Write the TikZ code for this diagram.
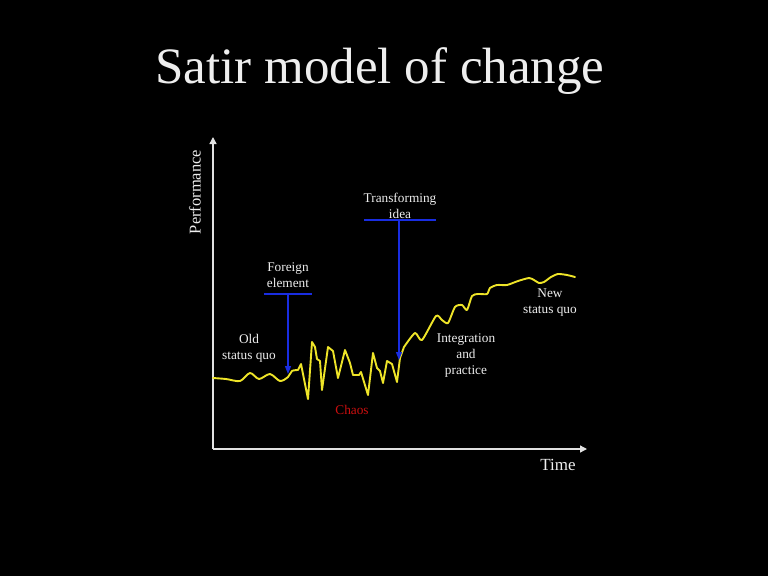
\documentclass[tikz,border=0pt]{standalone}
\usepackage{fontspec}
\setmainfont{Liberation Serif}
\usepackage{tikz}
\usetikzlibrary{arrows.meta, calc, positioning}
\definecolor{curvecol}{RGB}{238,228,40}
\definecolor{cuecol}{RGB}{25,45,225}
\definecolor{chaoscol}{RGB}{205,15,15}
\definecolor{txtcol}{RGB}{238,238,238}
\definecolor{axiscol}{RGB}{225,225,225}

\tikzset{
  lbl/.style={text=txtcol, align=center, font=\fontsize{13.3}{16}\selectfont},
  axis/.style={axiscol, line width=1.4pt, -{Triangle[length=7pt,width=7pt]}},
  cuebar/.style={cuecol, line width=1.4pt},
  cue/.style={cuecol, line width=1.2pt, -{Triangle[length=8pt,width=6pt]}},
  curve/.style={curvecol, line width=1.9pt, line join=round, line cap=round}
}

\begin{document}
\begin{tikzpicture}[x=1pt, y=-1pt]
	% page
	\fill[black] (0,0) rectangle (768,576);
	\useasboundingbox (0,0) rectangle (768,576);

	\node[text=txtcol, font=\fontsize{51}{60}\selectfont] (title) at (380,71) {Satir model of change};

	% axes
	\coordinate (O) at (213,449);
	\coordinate (ytip) at (213,137);
	\coordinate (xtip) at (587,449);
	\draw[axis] (O) -- (ytip);
	\draw[axis] (O) -- (xtip);
	\node[text=txtcol, rotate=90, font=\fontsize{16.5}{18}\selectfont] (perf) at (195,192) {Performance};
	\node[text=txtcol, font=\fontsize{17}{18}\selectfont] (time) at (558,465) {Time};

	% performance curve
	\draw[curve] plot[smooth, tension=0.5] coordinates {(213,378) (226,379) (240,381) (250,373)
		(259,379) (270,374) (280,381) (288,377) (292,371) (298,370)}
		-- (301,364) -- (308,399) -- (312,342) -- (315,347) -- (317,359) -- (320,361)
		-- (322,390) -- (328,347) -- (333,351) -- (338,378) -- (345,350) -- (350,363)
		-- (353,375) -- (359,375) -- (361,372) -- (368,395) -- (373,353) -- (377,368)
		-- (380,371) -- (383,383) -- (387,361) -- (392,364) -- (397,382) -- (400,358)
		-- plot[smooth, tension=0.4] coordinates {(404,347) (415,333) (422,340) (436,316)
		(442,320) (448,323) (455,307) (462,305) (467,310) (472,296) (478,294) (487,294)
		(490,288) (497,285) (507,285) (518,281) (529,278) (534,280) (539,283) (544,282)
		(551,277) (558,274) (567,275) (575,277)};

	% phases
	\node[lbl] (old) at (249,348) {Old\\status quo};
	\node[lbl, text=chaoscol] (chaos) at (352,410) {Chaos};
	\node[lbl] (integ) at (466,356) {Integration\\and\\practice};
	\node[lbl] (newsq) at (550,303) {New\\status quo};

	% foreign element
	\node[lbl] (foreign) at (288,275) {Foreign\\element};
	\coordinate (fl) at (264,294);
	\coordinate (fr) at (312,294);
	\coordinate (fb) at (288,294);
	\coordinate (fhit) at (288,374);
	\draw[cuebar] (fl) -- (fr);
	\draw[cue] (fb) -- (fhit);

	% transforming idea
	\node[lbl] (transf) at (400,206) {Transforming\\idea};
	\coordinate (tl) at (364,220);
	\coordinate (tr) at (436,220);
	\coordinate (tb) at (399,220);
	\coordinate (thit) at (399,360);
	\draw[cuebar] (tl) -- (tr);
	\draw[cue] (tb) -- (thit);
\end{tikzpicture}
\end{document}
